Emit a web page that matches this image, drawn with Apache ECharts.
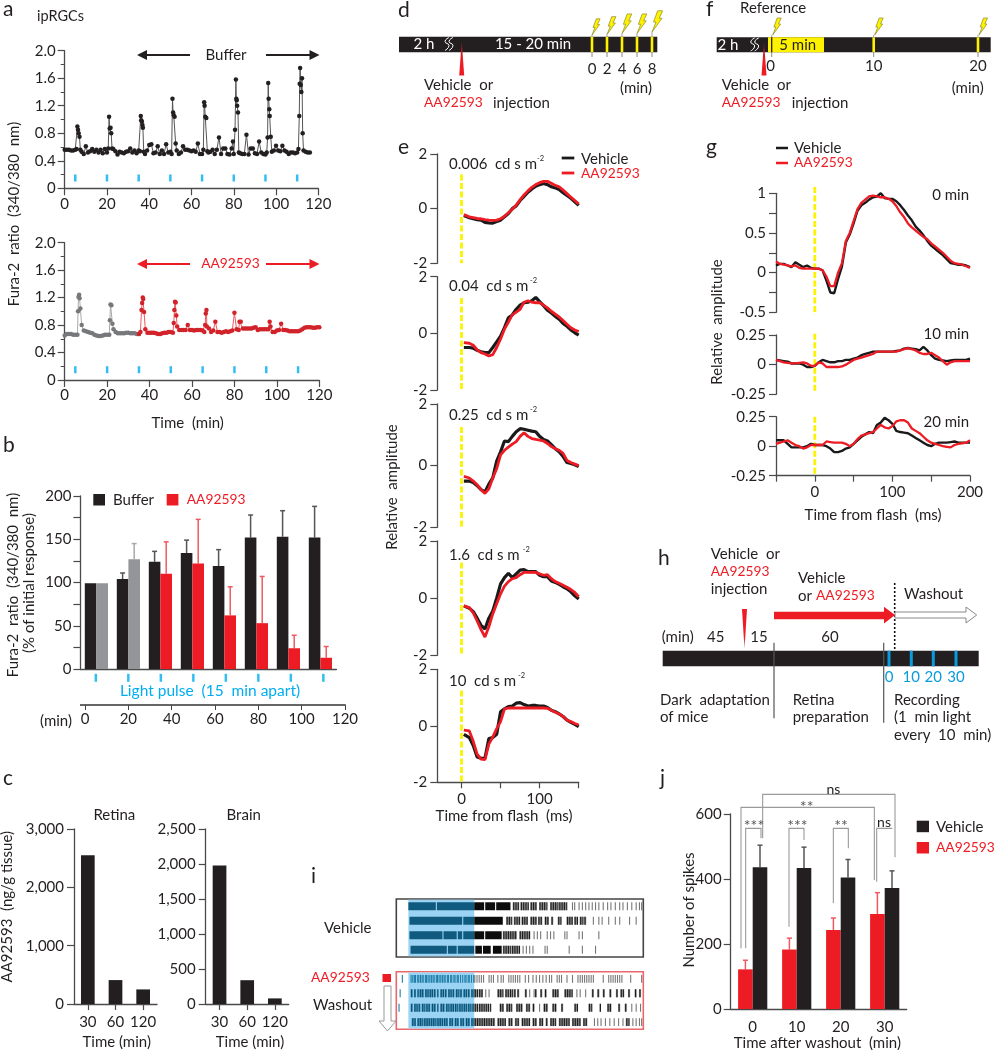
<!DOCTYPE html>
<html><head><meta charset="utf-8">
<style>html,body{margin:0;padding:0;background:#fff}#c{width:994px;height:1050px}</style>
<script src="https://cdn.jsdelivr.net/npm/echarts@6/dist/echarts.min.js"></script>
</head><body><div id="c"></div>
<script>
// ---------- DATA ----------
const lightPulses=[5,20,35,50,65,80,95,110];
const bufferTrace=[[0,.56],[1,.56],[2,.56],[3,.55],[4,.55],[5,.56],[5.6,.57],[6,.9],[6.3,.85],[6.6,.8],[7,.75],[7.4,.56],[8,.53],[9,.5],[10,.61],[11,.52],[12,.54],[13,.57],[14,.53],[15,.56],[16,.52],[17,.56],[18,.51],[19,.57],[20,.52],[20.6,.58],[21,1.04],[21.3,.87],[21.7,.88],[22,.8],[22.4,.58],[23,.57],[24,.54],[25,.49],[26,.53],[27,.52],[28,.51],[29,.53],[30,.54],[31,.58],[32,.52],[33,.55],[34,.51],[35,.55],[35.6,.54],[36,1.05],[36.2,.99],[36.5,.97],[36.8,.92],[37,.88],[37.4,.53],[38,.5],[39,.55],[40,.63],[41,.64],[42,.51],[43,.52],[44,.61],[45,.5],[46,.55],[47,.5],[48,.64],[49,.52],[50,.53],[50.6,.5],[51,1.3],[51.3,1.1],[51.6,1.06],[52,1.04],[52.5,.65],[53,.55],[54,.5],[55,.52],[56,.61],[57,.56],[58,.56],[59,.55],[60,.54],[61,.55],[62,.53],[63,.65],[64,.5],[65,.5],[65.6,.56],[66,1.25],[66.2,1.2],[66.5,1.04],[67,1.02],[67.5,.54],[68,.52],[69,.53],[70,.56],[71,.5],[72,.56],[73,.74],[74,.5],[75,.58],[76,.58],[77,.5],[78,.49],[79,.58],[79.6,.68],[80,.5],[80.6,.85],[81,1.58],[81.2,1.3],[81.4,1.28],[81.6,1.2],[82,1.1],[82.4,.52],[83,.51],[84,.5],[85,.5],[86,.78],[87,.49],[88,.58],[89,.58],[90,.51],[91,.5],[92,.68],[93,.52],[94,.5],[95,.49],[95.6,.52],[96,.74],[96.3,1.53],[96.5,1.3],[96.8,1.15],[97,1.05],[97.5,.75],[98,.53],[99,.55],[100,.62],[101,.55],[102,.54],[103,.62],[104,.55],[105,.53],[106,.5],[107,.52],[108,.52],[109,.51],[110,.52],[110.6,.57],[111,1.05],[111.2,1.52],[111.4,1.75],[111.7,1.5],[112,1.4],[112.3,1.6],[112.6,.8],[113,.55],[114,.53],[115,.52],[116,.52]];
const preDrugTrace=[[0,.65],[1,.67],[2,.67],[3,.67],[4,.66],[5,.66],[6,.66],[6.3,1],[6.5,1.21],[6.8,1.24],[7,1.19],[7.4,1.04],[8,.8],[9,.72],[10,.71],[11,.7],[12,.69],[13,.68],[14,.66],[15,.65],[16,.64],[17,.64],[18,.65],[19,.66],[20,.66],[21,.66],[21.3,.87],[21.6,1.1],[22,1.09],[22.5,.82],[23,.74],[24,.7],[25,.68],[26,.68],[27,.68],[28,.68],[29,.69],[30,.69],[31,.68],[32,.68],[33,.68],[34,.67],[35,.67]];
const drugTrace=[[35,.67],[35.7,.7],[36.2,1.02],[36.5,1.12],[36.8,1.2],[37,1.18],[37.4,.99],[38,.74],[39,.69],[40,.69],[41,.69],[42,.69],[43,.68],[44,.67],[45,.67],[46,.68],[47,.69],[48,.69],[49,.7],[50,.7],[51,.69],[51.4,.83],[51.7,1.02],[52,1.14],[52.3,1.13],[52.6,.94],[53,.78],[54,.73],[55,.73],[56,.73],[57,.73],[58,.8],[59,.73],[60,.73],[61,.72],[62,.73],[63,.73],[64,.73],[65,.72],[65.8,.7],[66.2,.8],[66.5,.97],[66.8,1.02],[67,.78],[68,.75],[69,.7],[70,.72],[71,.85],[72,.7],[73,.7],[74,.69],[75,.7],[76,.71],[77,.7],[78,.71],[79,.72],[80,.98],[81,.74],[82,.73],[82.4,.85],[83,.85],[84,.75],[85,.75],[86,.75],[87,.75],[88,.75],[89,.76],[90,.77],[91,.73],[92,.74],[93,.74],[94,.74],[95,.74],[96,.74],[96.6,.85],[97,.78],[98,.7],[99,.7],[100,.72],[101,.73],[102,.82],[103,.73],[104,.73],[105,.72],[106,.71],[107,.71],[108,.71],[109,.71],[110,.71],[111,.72],[112,.74],[113,.76],[114,.77],[115,.77],[116,.77],[117,.76],[118,.76],[119,.77],[120,.77]];

const pulseCategories=['1','2','3','4','5','6','7','8'];
const bufferMean=[99,104,124,134,119,152,153,152];
const bufferErrTop=[99,111,136,149,138,178,183,188];
const drugMean=[99,127,110,122,62,53,24,13];
const drugErrTop=[99,145,147,173,95,107,39,26];

const tissueTimes=['30','60','120'];
const retinaConc=[2550,410,250];
const brainConc=[1980,340,80];

const timeE=[3,5,10,15,20,25,30,35,40,45,50,55,60,65,70,75,80,85,90,95,100,105,110,115,120,125,130,135,140,145,150];
const e1Vehicle=[-.25,-.27,-.33,-.37,-.4,-.42,-.5,-.52,-.53,-.47,-.42,-.3,-.18,0,.1,.3,.45,.6,.72,.82,.88,.92,.88,.8,.76,.7,.58,.48,.38,.25,.12];
const e1Drug=[-.22,-.25,-.3,-.33,-.36,-.37,-.4,-.42,-.43,-.42,-.37,-.28,-.15,-.02,.13,.32,.5,.65,.78,.88,.95,1,1,.93,.85,.8,.68,.55,.42,.3,.17];
const e2Vehicle=[-.5,-.5,-.5,-.52,-.6,-.65,-.68,-.68,-.5,-.3,-.1,.2,.55,.65,.85,1,1.08,1.1,1.15,1.27,1.12,.98,.82,.72,.6,.5,.35,.25,.12,.02,-.06];
const e2Drug=[-.33,-.35,-.35,-.42,-.58,-.68,-.73,-.8,-.75,-.5,-.2,.15,.4,.65,.75,.85,1.1,1.15,1.1,1.08,1.08,1,.9,.78,.68,.58,.45,.32,.2,.12,.06];
const e3Vehicle=[-.5,-.5,-.5,-.55,-.65,-.78,-.85,-.6,-.4,.15,.45,.8,.78,.95,1.1,1.2,1.18,1.15,1.12,1.1,.95,.85,.8,.68,.55,.45,.3,.1,.07,.03,-.03];
const e3Drug=[-.35,-.37,-.4,-.5,-.62,-.78,-.9,-.75,-.4,-.1,.35,.5,.6,.7,.78,.95,1.07,.95,.88,.85,.83,.8,.72,.62,.55,.5,.4,.17,.1,.05,0];
const e4Vehicle=[-.27,-.28,-.35,-.47,-.7,-.95,-1.08,-.7,-.45,0,.5,.72,.87,.72,.85,.98,1,.93,.93,.93,.8,.75,.75,.6,.55,.48,.4,.33,.22,.08,-.03];
const e4Drug=[-.27,-.28,-.33,-.52,-.8,-1.1,-1.36,-1,-.55,-.2,.15,.42,.58,.68,.72,.82,.9,.9,.9,.9,.85,.8,.82,.68,.58,.52,.45,.38,.3,.2,.05];
const e5Vehicle=[-.3,-.32,-.42,-.7,-1.1,-1.15,-1.15,-.45,-.42,-.3,.5,.6,.68,.7,.8,.82,.75,.7,.72,.72,.7,.7,.65,.55,.5,.42,.33,.2,.12,.05,-.03];
const e5Drug=[-.15,-.15,-.18,-.55,-1,-1.18,-1.2,-.65,-.4,-.1,.15,.6,.63,.63,.63,.63,.63,.63,.63,.63,.63,.63,.62,.55,.48,.42,.33,.2,.15,.08,.03];

const timeG=[-50,-45,-40,-35,-30,-25,-20,-15,-10,-5,0,5,10,15,20,25,30,35,40,45,50,55,60,65,70,75,80,85,90,95,100,105,110,115,120,125,130,135,140,145,150,155,160,165,170,175,180,185,190,195,200];
const g1Vehicle=[.09,.11,.11,.09,.07,.13,.1,.07,.09,.06,.05,.05,.03,-.1,-.25,-.26,-.08,.08,.38,.48,.62,.78,.85,.88,.92,.95,.96,1,.94,.93,.93,.9,.85,.79,.72,.66,.58,.53,.47,.4,.34,.3,.26,.22,.17,.12,.11,.1,.1,.09,.07];
const g1Drug=[.14,.11,.1,.09,.08,.09,.06,.05,.05,.05,.05,.05,.03,-.05,-.17,-.17,0,.12,.4,.5,.65,.8,.88,.92,.96,.97,.96,.95,.95,.93,.9,.84,.76,.7,.62,.57,.53,.49,.45,.42,.37,.33,.29,.25,.2,.15,.12,.11,.1,.08,.06];
const g2Vehicle=[.04,.035,.03,.025,.01,.01,.01,0,-.02,-.02,-.01,.02,.04,.03,.02,.02,.03,.03,.04,.04,.05,.06,.08,.09,.1,.11,.11,.11,.11,.11,.11,.115,.12,.135,.14,.135,.13,.12,.15,.12,.08,.05,.04,.035,.03,.035,.04,.04,.04,.04,.05];
const g2Drug=[.04,.03,.02,.015,.01,.01,.015,.02,.01,-.01,-.01,.02,.01,-.02,-.02,-.02,-.02,-.015,0,.02,.04,.05,.06,.07,.08,.09,.11,.11,.11,.11,.11,.11,.12,.13,.14,.13,.12,.1,.09,.09,.1,.08,.06,.03,0,.02,.03,.03,.03,.03,.03];
const g3Vehicle=[.05,.05,.05,.02,-.01,-.01,-.01,-.01,0,.02,.01,.01,.01,0,-.02,-.05,-.05,-.04,-.02,-.01,.02,.05,.08,.1,.12,.11,.18,.2,.24,.22,.19,.13,.12,.115,.11,.09,.07,.05,.03,.01,0,.02,.03,.03,.03,.035,.04,.03,.03,.03,.03];
const g3Drug=[.02,.03,.04,.05,.03,.01,0,-.02,-.01,.01,.01,.01,.01,.04,.035,.03,.03,.03,.02,0,.02,.06,.09,.1,.11,.12,.15,.18,.16,.15,.17,.21,.22,.22,.2,.15,.13,.11,.08,.05,.03,.02,.01,0,-.005,-.01,.01,.02,.025,.03,.05];

const washoutTimes=['0','10','20','30'];
const spikesDrug=[122,183,243,292];
const spikesDrugErrTop=[150,218,280,358];
const spikesVehicle=[436,434,405,372];
const spikesVehicleErrTop=[504,498,460,425];

// raster: a number is one spike (s), a pair is a burst [start,end] (s)
const rasterVehicle=[
 [[11,36],[37,71],[71,80],[81,90],[91,104],[106,112],[113,120],[122,128],[130,137],[140,147],[148,155],160,162,166,169,172,175,178,181,184,188,192,195,199,203,206,210,214,218,221,223],
 [[12,60],[61,71],[71,97],[100,105],[107,113],[114,120],[122,128],[129,133],[135,139],[141,143],[147,150],[155,161],[162,165],[167,170],[171,173],179,184,187,193,199,203,212,218],
 [[12,42],[43,55],[56,60],[61,71],[71,80],[81,96],[97,110],[112,122],125,128,131,137,140,143,153,155,166,169,184],
 [[13,46],[47,55],[56,71],[72,78],[79,86],[88,96],[97,104],[105,112],115,118,121,124,135,137,157,169,181]
];
const rasterDrug=[
 [5,13,14.5,16,17,19,20,21.5,23,24,26,27,28.5,30,31.5,33,34,36,37,38.5,40,41.5,43,44,46,47,49,50,52,53,55,56,58,60,62,63,65,66,68,70,71,73,75,77,79,84,86,88,92,95,97,102,104,106,108,110,112,117,120,124,127,130,133,136,139,141,146,148,150,155,160,165,167,169,171,173,175,177,179,188,193,195,197,199,201,203,205,213,223],
 [3,[13,15],[16,18],[19,20],[21,25],[26,29],[30,33],[34,36],[37,38],[40,43],[44,46],[47,50],[51,53],[54,57],[58,60],[61,64],[65,67],[68,71],[71,74],[75,79],81,84,[92,97],[99,102],[103,106],[107,109],[110,112],[117,119],121,125,[126,128],[131,133],[135,137],[142,148],[153,160],164,167,172,[178,180],[183,185],[188,190],[194,196],[200,202],[204,207],[211,213],[217,219],[221,223]],
 [2,[13,15],[16,19],[20,22],[23,26],[27,31],[32,36],[37,38],[40,44],[45,48],[49,52],[53,56],[57,60],[61,64],[65,68],[69,71],[71,74],[75,80],[81,84],[85,86],[94,98],[100,105],[109,115],[118,122],[124,126],130,[134,138],[142,146],[150,152],[162,165],[175,178],[185,186],[192,196],[202,204],[208,210],214,218,222],
 [[14,18],[19,24],[25,30],[31,36],[37,42],[43,47],[48,52],[53,57],[58,62],[63,67],[68,71],[71,90],[92,100],[102,106],[108,112],[114,122],[124,128],[130,134],[136,138],[140,145],[148,158],[160,168],[170,174],180,183,186,190,194,198,202,206,[209,212],215,218,221,223]
];

// ---------- LAYOUT / STYLE ----------
const F='Lato, "Noto Sans", sans-serif', INK='#231f20', RED='#ed1c24', BLUE='#00aeef', YEL='#fff200', AX='#4a4a4a';
const grids=[],xAxes=[],yAxes=[],series=[],G=[];
function addGrid(l,t,w,h,xa,ya){const i=grids.length;grids.push({left:l,top:t,width:w,height:h,...(ya&&ya.gridExtra||{})});
 const lab={color:INK,fontFamily:F,fontSize:15,margin:8};
 const ax={lineStyle:{color:AX,width:1.3}};
 const base=o=>({axisLine:{show:true,onZero:false,...ax},axisTick:{show:true,length:7,inside:false,lineStyle:{color:AX,width:1.2}},splitLine:{show:false},axisLabel:{...lab,...(o.axisLabel||{})}});
 const mk=o=>{const b=base(o);return{gridIndex:i,...b,...o,axisLabel:{...b.axisLabel,...(o.axisLabel||{})},axisTick:{...b.axisTick,...(o.axisTick||{})},axisLine:{...b.axisLine,...(o.axisLine||{})}}};
 xAxes.push(mk(xa));const y={...ya};delete y.gridExtra;yAxes.push(mk(y));return i}
const zip=(t,v)=>t.map((x,i)=>[x,v[i]]);
const lineS=(i,data,color,width,extra)=>series.push({type:'line',xAxisIndex:i,yAxisIndex:i,data,showSymbol:false,symbol:'none',silent:true,lineStyle:{color,width},...extra});
const yellowS=(i,a,b)=>lineS(i,[[0,a],[0,b]],YEL,2.8,{clip:false,lineStyle:{color:YEL,width:2.8,type:[6,2.5]}});
function errS(i,mean,top,off,color){series.push({type:'custom',xAxisIndex:i,yAxisIndex:i,silent:true,data:mean.map((m,k)=>[k,m,top[k]]),z:1,
 renderItem:(p,api)=>{const a=api.coord([api.value(0),api.value(1)]),b=api.coord([api.value(0),api.value(2)]);if(api.value(2)<=api.value(1))return null;const x=a[0]+off;
  const c=typeof color==='function'?color(api.value(0)):color;
  return{type:'group',children:[{type:'line',shape:{x1:x,y1:a[1],x2:x,y2:b[1]},style:{stroke:c,lineWidth:1.5}},{type:'line',shape:{x1:x-2.5,y1:b[1],x2:x+2.5,y2:b[1]},style:{stroke:c,lineWidth:1.5}}]}}})}

// panel a
function dotS(i,data,color,line){series.push({type:'line',xAxisIndex:i,yAxisIndex:i,data,symbol:'circle',symbolSize:4.5,silent:true,itemStyle:{color},lineStyle:{color:line||color,width:1}})}
function pulses(i,y,w,h){series.push({type:'scatter',xAxisIndex:i,yAxisIndex:i,data:lightPulses.map(t=>[t,y]),symbol:'rect',symbolSize:[w,h],silent:true,itemStyle:{color:BLUE}})}
const aX={type:'value',min:0,max:120,interval:20};
const aY={type:'value',min:0,max:2,interval:.4,minorTick:{show:true,splitNumber:2,length:4,lineStyle:{color:AX,width:1}},axisLabel:{formatter:v=>v==0?'0':v.toFixed(1),margin:9}};
let i=addGrid(64.7,50.7,253.6,137.6,aX,aY);pulses(i,.15,2.5,7);dotS(i,bufferTrace,'#231f20','#555');
i=addGrid(64.7,242.7,254.6,137.3,aX,aY);pulses(i,.15,2.5,7);dotS(i,preDrugTrace,'#77787b','#aaa');dotS(i,drugTrace,'#d2232a','#ef5a5f');

// panel b
i=addGrid(80.4,496,256,173,{type:'category',data:pulseCategories,axisTick:{show:false},axisLabel:{show:false}},
 {type:'value',min:0,max:200,interval:50,minorTick:{show:true,splitNumber:2,length:7,lineStyle:{color:AX,width:1.2}},axisLabel:{margin:9}});
series.push({type:'bar',xAxisIndex:i,yAxisIndex:i,data:bufferMean,barWidth:11.6,barGap:'0%',itemStyle:{color:INK},silent:true});
series.push({type:'bar',xAxisIndex:i,yAxisIndex:i,data:drugMean.map((v,k)=>k<2?{value:v,itemStyle:{color:'#939598'}}:v),barWidth:11.6,itemStyle:{color:RED},silent:true});
errS(i,bufferMean,bufferErrTop,-5.8,'#555');
errS(i,drugMean,drugErrTop,5.8,k=>k<2?'#a7a9ac':'#f0595f');
// time axis + pulse ticks under b
i=addGrid(85,671,260,34,{type:'value',min:0,max:120,interval:20,axisLine:{lineStyle:{color:'#666',width:2}},axisTick:{length:5,lineStyle:{color:'#444'}},axisLabel:{margin:7}},
 {type:'value',min:0,max:1,show:false});
pulses(i,.8,2.5,8);

// panel c
const cX={type:'category',data:tissueTimes,axisTick:{alignWithLabel:true,length:6},axisLabel:{margin:11,interval:0}};
const thous=v=>v.toLocaleString('en-US');
i=addGrid(74,829,83,175,cX,{type:'value',min:0,max:3000,interval:1000,axisLabel:{formatter:thous,margin:10}});
series.push({type:'bar',xAxisIndex:i,yAxisIndex:i,data:retinaConc,barWidth:13.7,itemStyle:{color:INK},silent:true});
i=addGrid(205.7,829,83,175,cX,{type:'value',min:0,max:2500,interval:500,axisLabel:{formatter:thous,margin:10}});
series.push({type:'bar',xAxisIndex:i,yAxisIndex:i,data:brainConc,barWidth:13.7,itemStyle:{color:INK},silent:true});

// panel e
const ePanels=[[154,263.3,e1Vehicle,e1Drug],[276.7,390,e2Vehicle,e2Drug],[404,527.3,e3Vehicle,e3Drug],[541,655.3,e4Vehicle,e4Drug],[669.3,782.3,e5Vehicle,e5Drug]];
ePanels.forEach((p,k)=>{const last=k==4;
 const j=addGrid(437.3,p[0],141.4,p[1]-p[0],last?{type:'value',min:-31,max:150,axisTick:{customValues:[0,50,100,150],length:6},axisLabel:{customValues:[0,100],margin:9}}:{type:'value',min:-31,max:150,show:false},
  {type:'value',min:-2,max:2,interval:2,axisLabel:{margin:10}});
 yellowS(j,1.25,-2);lineS(j,zip(timeE,p[2]),'#1a1a1a',3.2);lineS(j,zip(timeE,p[3]),RED,2.8);});

// panel g
const gPanels=[[193.3,312.3,-.5,1,.5,g1Vehicle,g1Drug,1.08,-.53],[335,394.3,-.25,.25,.25,g2Vehicle,g2Drug,.26,-.24],[416.7,475.7,-.25,.25,.25,g3Vehicle,g3Drug,.25,-.25]];
gPanels.forEach((p,k)=>{const last=k==2;
 const j=addGrid(776,p[0],194,p[1]-p[0],last?{type:'value',min:-50,max:200,interval:50,axisTick:{length:6},axisLabel:{customValues:[0,100,200],margin:9}}:{type:'value',min:-50,max:200,show:false},
  {type:'value',min:p[2],max:p[3],interval:p[4],minorTick:k==0?{show:true,splitNumber:2,length:7,lineStyle:{color:AX,width:1.2}}:{show:false},axisLabel:{margin:10}});
 yellowS(j,p[7],p[8]);lineS(j,zip(timeG,p[5]),'#1a1a1a',2.4);lineS(j,zip(timeG,p[6]),RED,2.3);});

// panel j
i=addGrid(730.7,814,176,195,{type:'category',data:washoutTimes,axisTick:{show:false},axisLabel:{margin:11,interval:0}},{type:'value',min:0,max:600,interval:200,axisLabel:{margin:9}});
series.push({type:'bar',xAxisIndex:i,yAxisIndex:i,data:spikesDrug,barWidth:14.6,barGap:'0%',itemStyle:{color:RED},silent:true});
series.push({type:'bar',xAxisIndex:i,yAxisIndex:i,data:spikesVehicle,barWidth:14.6,itemStyle:{color:INK},silent:true});
errS(i,spikesDrug,spikesDrugErrTop,-7.3,'#f0595f');errS(i,spikesVehicle,spikesVehicleErrTop,7.3,'#555');

// panel i raster
function raster(top,h,rows,border,solidUntil){
 const j=addGrid(396.3,top,247,h,{type:'value',min:0,max:225,show:false},{type:'value',min:0,max:4,inverse:true,show:false,gridExtra:{show:true,borderColor:border,borderWidth:1.6,backgroundColor:'#fff'}});
 series.push({type:'custom',xAxisIndex:j,yAxisIndex:j,silent:true,data:[[11,71]],renderItem:(p,api)=>{const a=api.coord([api.value(0),0]),b=api.coord([api.value(1),4]);return{type:'rect',shape:{x:a[0],y:a[1]+.8,width:b[0]-a[0],height:b[1]-a[1]-1.6},style:{fill:'#9ad3f3'}}}});
 const flat=[];rows.forEach((r,k)=>r.forEach(s=>flat.push(Array.isArray(s)?[k,s[0],s[1]]:[k,s,s])));
 series.push({type:'custom',xAxisIndex:j,yAxisIndex:j,silent:true,data:flat,renderItem:(p,api)=>{const r=api.value(0),s=api.value(1),e=api.value(2);const a=api.coord([s,r+.5]),b=api.coord([e,r+.5]),H=api.size([0,.55])[1];
  const inL=s<71,burst=e>s,w=Math.max(b[0]-a[0],1.1);
  if(!burst)return{type:'rect',shape:{x:a[0],y:a[1]-H/2,width:w,height:H},style:{fill:inL?'#1f7ea8':'#777'}};
  if(s<solidUntil)return{type:'rect',shape:{x:a[0],y:a[1]-H/2,width:w,height:H},style:{fill:inL?'#0f5a7e':'#0c0c0c'}};
  const ch=[{type:'rect',shape:{x:a[0],y:a[1]-H/2,width:w,height:H},style:{fill:inL?'#3b8fb8':'#8c8c8c'}}];
  for(let x=a[0]+.5;x<a[0]+w;x+=2.3)ch.push({type:'rect',shape:{x,y:a[1]-H/2,width:1.1,height:H},style:{fill:inL?'#0f4f70':'#1c1c1c'}});
  return{type:'group',children:ch}}});
}
raster(899,58,rasterVehicle,'#444',96);
raster(971.7,57.6,rasterDrug,'#e8686c',0);

// ---------- ANNOTATIONS ----------
const T=(text,x,y,o={})=>{let fs=o.fs||15;if(text==='AA92593'&&!o.fs)fs=13.8;G.push({type:'text',x,y,z:30,rotation:o.rot||0,style:{text,fill:o.c||INK,font:`${fs}px ${F}`,align:o.a||'left',verticalAlign:'middle'}})};
const L=(x1,y1,x2,y2,c=AX,w=1.2,d)=>G.push({type:'line',z:20,shape:{x1,y1,x2,y2},style:{stroke:c,lineWidth:w,lineDash:d}});
const R=(x,y,w,h,c)=>G.push({type:'rect',z:15,shape:{x,y,width:w,height:h},style:{fill:c}});
const P=(pts,fill,stroke,lw,z=18)=>G.push({type:'polygon',z,shape:{points:pts},style:{fill,stroke,lineWidth:lw||0}});
const PL=(pts,c,w,z=20,smooth=0)=>G.push({type:'polyline',z,shape:{points:pts,smooth},style:{stroke:c,lineWidth:w,fill:'none'}});
const VT=(t,x,y,o={})=>T(t,x,y,{...o,a:'center',rot:Math.PI/2});
// panel letters
[['a',3,9],['b',3,445],['c',3,778],['d',398,10],['e',398,147],['f',706,9],['g',706,147],['h',658,558],['i',311,876],['j',660,778]].forEach(l=>T(l[0],l[1],l[2],{fs:21}));
// a
T('ipRGCs',37,16,{fs:14.5});
function arrow2(x1,x2,x3,x4,y,c){L(x2,y,x1+6,y,c,2);P([[x1,y],[x1+10,y-5],[x1+10,y+5]],c);L(x3,y,x4-6,y,c,2);P([[x4,y],[x4-10,y-5],[x4-10,y+5]],c)}
arrow2(137,190,266,319.5,55,INK);T('Buffer',226,55.5,{a:'center'});
arrow2(137,190,266,319.5,264,RED);T('AA92593',230.5,264,{a:'center',c:RED});
VT('Fura-2  ratio  (340/380  nm)',14,214);T('Time  (min)',187.7,422.7,{a:'center'});
// b
VT('Fura-2  ratio  (340/380  nm)',13,585);VT('(% of initial response)',29,583);
R(93.3,494,11.7,11.5,INK);T('Buffer',113,500);R(166.7,494,11.7,11.5,RED);T('AA92593',186.7,500,{c:RED});
T('Light pulse  (15  min apart)',210,691,{a:'center',c:BLUE,fs:15.5});L(80,705,85,705,'#666',2);T('(min)',40,721);
// c
VT('AA92593  (ng/g tissue)',7,906.7);T('Retina',114.3,815,{a:'center'});T('Brain',243.7,815,{a:'center'});
T('Time (min)',116.7,1042,{a:'center'});T('Time (min)',250,1042,{a:'center'});
// schematics
function bolt(x,y,s){P([[x,y],[x+3.2*s,y-8*s],[x+1.2*s,y-8*s],[x+4.5*s,y-17*s],[x+8.5*s,y-17*s],[x+5.8*s,y-11*s],[x+8*s,y-11*s]],YEL,'#8a8a2a',.7,25)}
function squig(x,y){const s=(dx)=>PL([[x+dx+3,y-7],[x+dx-1,y-3],[x+dx+3,y+1],[x+dx-1,y+6]],'#fff',1,25,.6);s(0);s(4)}
function needle(xc,yTop,yBot,w){G.push({type:'polygon',z:24,shape:{points:[[xc,yTop],[xc+w/2,yBot],[xc-w/2,yBot]]},style:{fill:{type:'linear',x:0,y:0,x2:0,y2:1,colorStops:[{offset:0,color:'#6a1a1a'},{offset:.5,color:RED},{offset:1,color:RED}]}}})}
// d
R(399,36.7,258.3,15.6,INK);T('2 h',424,44.5,{a:'center',c:'#fff'});squig(446,44.5);T('15 - 20 min',533,44.5,{a:'center',c:'#fff'});
[[592,.95,35],[607,1.05,34.5],[622,1.15,33.5],[637,1.15,33.5],[652,1.25,32]].forEach((d,k)=>{R(d[0]-1.3,36.7,2.6,15.6,YEL);L(d[0],d[2],d[0],37,'#888',.8);L(d[0],52,d[0],57,'#888',1);bolt(d[0],d[2],d[1]);T(String(k*2),d[0],69,{a:'center'})});
T('(min)',636,88,{a:'center'});needle(461.7,41,75.5,5);
T('Vehicle  or',424,85);T('AA92593',424,103,{c:RED});T('injection',493,103);
// e
L(561.7,158,574.3,158,'#1a1a1a',2.8);L(561.7,173,574.3,173,RED,2.8);T('Vehicle',581,159);T('AA92593',581,174,{c:RED});
[['0.006  cd s m',164,537,159],['0.04  cd s m',286,530,281],['0.25  cd s m',415,530,410],['1.6  cd s m',555,522.7,550],['10  cd s m',681,518,676]].forEach(r=>{T(r[0],449,r[1]);T('-2',r[2],r[3],{fs:7.5})});
VT('Relative  amplitude',392.5,487);T('Time from flash  (ms)',504,816,{a:'center'});
// f
R(716.7,37.3,274,15,INK);R(768,37.3,56,15,YEL);L(771.7,37.3,771.7,52.3,INK,1.3);T('2 h',728,45,{a:'center',c:'#fff'});squig(751.7,45);T('5 min',797.7,45,{a:'center'});
[873.7,978].forEach(x=>{R(x-1.3,37.3,2.6,15,YEL);});
[[771.7,'0'],[873.7,'10'],[978,'20']].forEach(d=>{L(d[0],52,d[0],57,'#888',1);L(d[0],35,d[0],37,'#888',.8);bolt(d[0]+1,35,1);T(d[1],d[0]-(d[1]=='0'?1:0),66,{a:'center'})});
T('Reference',740,8);T('(min)',967.7,88,{a:'center'});needle(764,42,75.5,5);
T('Vehicle  or',721.7,85);T('AA92593',721.7,103,{c:RED});T('injection',791.7,103);
// g
L(776,148,788,148,'#1a1a1a',2.5);L(776,163,788,163,RED,2.5);T('Vehicle',794,148);T('AA92593',794,163,{c:RED});
T('0 min',969,195,{a:'right'});T('10 min',969,334,{a:'right'});T('20 min',969,421.7,{a:'right'});
VT('Relative  amplitude',716.7,322);T('Time from flash  (ms)',873,515,{a:'center'});
// h
R(662.7,650.7,316,15.6,INK);[889,911.3,933.3,956].forEach(x=>R(x-1.5,650.7,3,15.6,'#0b9bdc'));
[[889,'0'],[911.3,'10'],[933.3,'20'],[956,'30']].forEach(d=>T(d[1],d[0],677,{a:'center',c:'#0b9bdc'}));
L(774,642.7,774,718.3,'#555',1.2);L(883.7,642.7,883.7,722.7,'#555',1.2);L(894.7,583,894.7,650.7,'#111',1.6,[2,2]);
P([[774,611.7],[884,611.7],[884,606.7],[895,615],[884,623.5],[884,619.3],[774,619.3]],RED,null,0,22);
P([[895,612],[966,612],[966,607],[976.7,615],[966,623],[966,618],[895,618]],'#fff','#888',1,21);
G.push({type:'polygon',z:24,shape:{points:[[742,609],[747,609],[744.5,649]]},style:{fill:{type:'linear',x:0,y:0,x2:0,y2:1,colorStops:[{offset:0,color:RED},{offset:.7,color:RED},{offset:1,color:'#999'}]}}});
T('Vehicle  or',710.7,554);T('AA92593',710.7,572,{c:RED});T('injection',710.7,589);
T('Vehicle',798,578);T('or',798,596);T('AA92593',816,596,{c:RED});T('Washout',904,594);
T('(min)',661.7,637);T('45',715.7,637,{a:'center'});T('15',759,637,{a:'center'});T('60',830,637,{a:'center'});
T('Dark  adaptation',660,700);T('of mice',660,717);T('Retina',792.7,700);T('preparation',792.7,717);T('Recording',894,700);T('(1  min light',894,717);T('every  10  min)',894,735);
// i
T('Vehicle',324,928);T('AA92593',311,977.5,{c:RED});T('Washout',313,1005);R(382.5,974,8.5,8,RED);
P([[384,986],[391,986],[391,1021],[396,1021],[387.5,1031],[379,1021],[384,1021]],'#fff','#999',1,21);
// j
const brk=[[[197,505],[197,145],[243,145],[243,175]],[[327,440],[327,145],[372,145],[372,180]],[[460,370],[460,145],[505,145],[505,205]],[[590,305],[590,145],[637,145]],[[183,505],[183,82],[583,82],[583,300]],[[248,175],[248,43],[645,43],[645,232]]];
brk.forEach(b=>PL(b.map(p=>[680+p[0]/3,780+p[1]/3]),'#9a9a9a',1.1,8));
[['***',222,138],['***',352,138],['**',483,138],['ns',612,127],['**',380,80],['ns',460,27]].forEach(s=>T(s[0],680+s[1]/3,780+s[2]/3,{a:'center',fs:s[0]=='ns'?14:16,c:s[0]=='ns'?INK:'#555'}));
VT('Number of spikes',689,910);T('Time after washout  (min)',817.3,1042.7,{a:'center'});
R(916.7,820.7,12.3,11.5,INK);T('Vehicle',936,827);R(916.7,842,12.3,11.5,RED);T('AA92593',936,848,{c:RED});

const chart=echarts.init(document.getElementById('c'),null,{width:994,height:1050});
chart.setOption({animation:false,backgroundColor:'#fff',textStyle:{fontFamily:F},grid:grids,xAxis:xAxes,yAxis:yAxes,series,graphic:{elements:G}});
</script></body></html>
